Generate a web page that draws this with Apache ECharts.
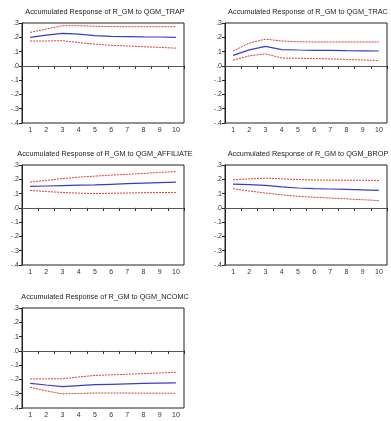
<!DOCTYPE html>
<html>
<head>
<meta charset="utf-8">
<script src="https://cdn.jsdelivr.net/npm/echarts@6/dist/echarts.min.js"></script>
<style>
  html, body { margin: 0; padding: 0; background: #fff; }
  #main { width: 391px; height: 421px; }
</style>
</head>
<body>
<div id="main"></div>
<script>
// periods and y tick labels
var periods = ['1', '2', '3', '4', '5', '6', '7', '8', '9', '10'];
var yTicks = { '0.3': '.3', '0.2': '.2', '0.1': '.1', '0': '.0', '-0.1': '-.1', '-0.2': '-.2', '-0.3': '-.3', '-0.4': '-.4' };

var titles = [
  'Accumulated Response of R_GM to QGM_TRAP',
  'Accumulated Response of R_GM to QGM_TRAC',
  'Accumulated Response of R_GM to QGM_AFFILIATE',
  'Accumulated Response of R_GM to QGM_BROP',
  'Accumulated Response of R_GM to QGM_NCOMC'
];

// response, upper band, lower band for each shock
var trapResp = [0.200, 0.215, 0.228, 0.222, 0.212, 0.207, 0.205, 0.203, 0.202, 0.200];
var trapUp = [0.234, 0.258, 0.281, 0.281, 0.277, 0.275, 0.274, 0.274, 0.274, 0.274];
var trapLo = [0.174, 0.174, 0.176, 0.163, 0.152, 0.144, 0.139, 0.134, 0.129, 0.124];

var tracResp = [0.073, 0.112, 0.136, 0.114, 0.111, 0.109, 0.108, 0.106, 0.105, 0.104];
var tracUp = [0.103, 0.160, 0.187, 0.174, 0.169, 0.167, 0.167, 0.167, 0.167, 0.167];
var tracLo = [0.040, 0.070, 0.084, 0.055, 0.053, 0.051, 0.049, 0.045, 0.041, 0.038];

var affResp = [0.150, 0.153, 0.156, 0.159, 0.161, 0.165, 0.169, 0.173, 0.177, 0.180];
var affUp = [0.180, 0.193, 0.205, 0.215, 0.222, 0.229, 0.235, 0.241, 0.248, 0.254];
var affLo = [0.122, 0.114, 0.108, 0.103, 0.100, 0.102, 0.104, 0.106, 0.107, 0.108];

var bropResp = [0.166, 0.162, 0.157, 0.147, 0.139, 0.135, 0.132, 0.129, 0.126, 0.122];
var bropUp = [0.196, 0.203, 0.208, 0.203, 0.198, 0.195, 0.194, 0.193, 0.193, 0.192];
var bropLo = [0.134, 0.118, 0.104, 0.091, 0.081, 0.074, 0.069, 0.063, 0.057, 0.051];

var ncomcResp = [-0.227, -0.239, -0.250, -0.243, -0.237, -0.234, -0.231, -0.228, -0.226, -0.224];
var ncomcUp = [-0.197, -0.196, -0.196, -0.183, -0.172, -0.168, -0.164, -0.159, -0.155, -0.150];
var ncomcLo = [-0.255, -0.280, -0.301, -0.298, -0.295, -0.295, -0.295, -0.296, -0.296, -0.297];

var panels = [
  [trapResp, trapUp, trapLo],
  [tracResp, tracUp, tracLo],
  [affResp, affUp, affLo],
  [bropResp, bropUp, bropLo],
  [ncomcResp, ncomcUp, ncomcLo]
];

function irf_init() {
  var myChart = echarts.init(document.getElementById('main'));
  // left edge, top edge of each plot box
  var boxes = [[22, 23], [225, 23], [22, 165], [225, 165], [22, 308]];
  var w = 162, h = 100;
  var grid = [], xAxis = [], yAxis = [], texts = [], series = [];

  for (let i = 0; i < panels.length; i++) {
    let b = boxes[i];
    grid.push({
      left: b[0], top: b[1], width: w, height: h,
      show: true, borderColor: '#222', borderWidth: 1, backgroundColor: '#fff'
    });
    // titles centred over each box
    texts.push({
      type: 'text',
      x: b[0] + w / 2 + 2, y: b[1] - 11,
      style: {
        text: titles[i], textAlign: 'center', textVerticalAlign: 'middle',
        fontSize: 7.3, fill: '#222', fontFamily: 'Liberation Sans'
      }
    });
    xAxis.push({
      type: 'category', gridIndex: i, data: periods, boundaryGap: true,
      axisLine: { lineStyle: { color: '#222', width: 1 } },
      axisTick: { show: true, length: 3, inside: false, lineStyle: { color: '#222' } },
      axisLabel: { fontSize: 7, color: '#333', margin: 4, fontFamily: 'Liberation Sans' },
      splitLine: { show: false }
    });
    yAxis.push({
      type: 'value', gridIndex: i, min: -0.4, max: 0.3, interval: 0.1,
      axisLine: { show: true, lineStyle: { color: '#222', width: 1 } },
      axisTick: { show: true, length: 3, inside: false, lineStyle: { color: '#222' } },
      axisLabel: {
        fontSize: 7, color: '#333', margin: 3, fontFamily: 'Liberation Sans',
        formatter: function (v) { return yTicks[String(Math.round(v * 10) / 10)] || ''; }
      },
      splitLine: { show: false }
    });
    series.push({
      type: 'line', xAxisIndex: i, yAxisIndex: i, data: panels[i][0],
      symbol: 'none', silent: true,
      lineStyle: { color: '#3b3bd0', width: 1.2 },
      markLine: {
        silent: true, symbol: 'none', label: { show: false },
        lineStyle: { color: '#555', width: 1, type: 'solid' },
        data: [{ yAxis: 0 }]
      },
      z: 3
    });
    series.push({
      type: 'line', xAxisIndex: i, yAxisIndex: i, data: panels[i][1],
      symbol: 'none', silent: true,
      lineStyle: { color: '#e23a3a', width: 1, type: [2, 1] }
    });
    series.push({
      type: 'line', xAxisIndex: i, yAxisIndex: i, data: panels[i][2],
      symbol: 'none', silent: true,
      lineStyle: { color: '#e23a3a', width: 1, type: [2, 1] }
    });
  }

  var option = {
    animation: false,
    backgroundColor: '#fff',
    graphic: texts,
    grid: grid,
    xAxis: xAxis,
    yAxis: yAxis,
    series: series
  };
  myChart.setOption(option, true);
}

irf_init();
</script>
</body>
</html>
